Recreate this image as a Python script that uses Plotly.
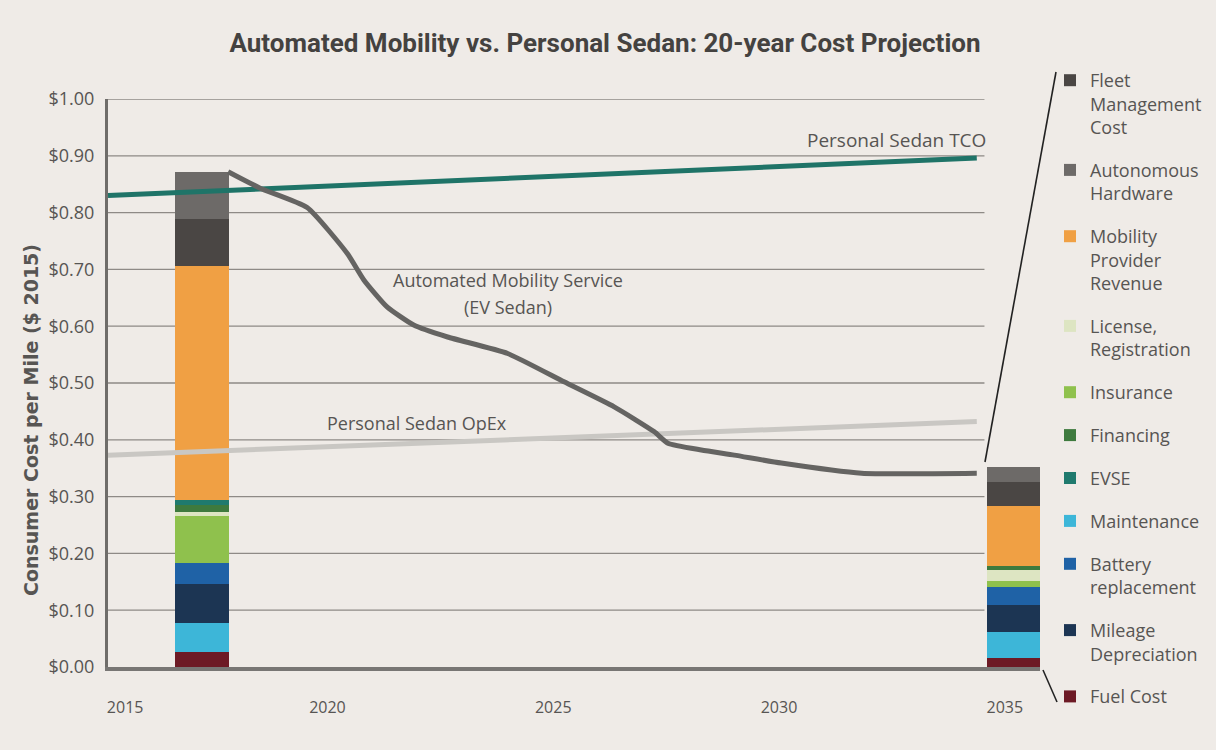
import plotly.graph_objects as go

# ---------------- data ----------------
bar_years = [2017.22, 2035.19]

fuel_cost = [0.027, 0.015]
maintenance = [0.050, 0.047]
mileage_depreciation = [0.070, 0.048]
battery_replacement = [0.036, 0.031]
insurance = [0.082, 0.011]
license_registration = [0.008, 0.018]
financing = [0.012, 0.007]
evse = [0.009, 0.0]
mobility_provider_revenue = [0.412, 0.107]
fleet_management_cost = [0.082, 0.041]
autonomous_hardware = [0.084, 0.027]

tco_years = [2015.14, 2034.38]
tco_values = [0.830, 0.896]

opex_years = [2015.14, 2034.38]
opex_values = [0.373, 0.432]

ev_years = [2017.80, 2018.51, 2019.55, 2020.44, 2020.81, 2021.32, 2021.91, 2022.66,
            2023.99, 2025.24, 2026.35, 2027.24, 2027.54, 2028.28, 2029.01, 2030.05,
            2031.83, 2034.38]
ev_values = [0.872, 0.843, 0.809, 0.728, 0.681, 0.634, 0.602, 0.581,
             0.552, 0.502, 0.458, 0.414, 0.394, 0.382, 0.373, 0.359,
             0.341, 0.341]

x_tick_vals = [2015.52, 2020, 2025, 2030, 2035]
x_tick_text = ["2015", "2020", "2025", "2030", "2035"]
y_tick_vals = [0.0, 0.1, 0.2, 0.3, 0.4, 0.5, 0.6, 0.7, 0.8, 0.9, 1.0]

X_MIN, X_MAX = 2015.14, 2035.78
GRID_END = 2034.55

# stack order bottom -> top: (name, values, colour, legend rank)
segments = [
    ("Fuel Cost", fuel_cost, "#6d1a25", 11),
    ("Maintenance", maintenance, "#3db6d8", 8),
    ("Mileage<br>Depreciation", mileage_depreciation, "#1c3553", 10),
    ("Battery<br>replacement", battery_replacement, "#1f62a6", 9),
    ("Insurance", insurance, "#8fc14d", 5),
    ("License,<br>Registration", license_registration, "#dde5c2", 4),
    ("Financing", financing, "#3e7a3e", 6),
    ("EVSE", evse, "#1f7a6e", 7),
    ("Mobility<br>Provider<br>Revenue", mobility_provider_revenue, "#f0a044", 3),
    ("Fleet<br>Management<br>Cost", fleet_management_cost, "#4a4644", 1),
    ("Autonomous<br>Hardware", autonomous_hardware, "#6d6a68", 2),
]

TEXT = "#575553"
FONT = "Open Sans, Noto Sans, sans-serif"
BG = "#efebe7"

fig = go.Figure()

for i, (name, vals, col, rank) in enumerate(segments):
    fig.add_trace(go.Bar(
        x=bar_years, y=vals, name=name, width=1.18,
        marker=dict(color=col, line=dict(width=0)),
        legendrank=rank, legendgroup=f"g{i}",
    ))

fig.add_trace(go.Scatter(x=tco_years, y=tco_values, mode="lines",
                         line=dict(color="#1f7468", width=5), showlegend=False))
fig.add_trace(go.Scatter(x=opex_years, y=opex_values, mode="lines",
                         line=dict(color="#c9c7c3", width=5), showlegend=False))
fig.add_trace(go.Scatter(x=ev_years, y=ev_values, mode="lines",
                         line=dict(color="#656462", width=5, shape="spline", smoothing=0.5),
                         showlegend=False))

# gridlines (stop short of the 2035 bar, as in the reference)
shapes = []
for v in y_tick_vals[1:]:
    shapes.append(dict(type="line", xref="x", yref="y", x0=X_MIN, x1=GRID_END, y0=v, y1=v,
                       line=dict(color="#8e8a86", width=1.3), layer="below"))

# bracket lines linking the 2035 bar to the legend (paper coords)
L, T, W, H = 108, 99, 932, 568
def px(xp):
    return (xp - L) / W
def py(yp):
    return (T + H - yp) / H
shapes.append(dict(type="line", xref="paper", yref="paper",
                   x0=px(985), y0=py(462), x1=px(1056), y1=py(72),
                   line=dict(color="#222222", width=1.6)))
shapes.append(dict(type="line", xref="paper", yref="paper",
                   x0=px(1043), y0=py(670), x1=px(1057), y1=py(702),
                   line=dict(color="#222222", width=1.6)))

def note(text, xp, yp, size=18, family=FONT, angle=0):
    return dict(text=text, x=px(xp), y=py(yp), xref="paper", yref="paper",
                xanchor="center", yanchor="middle", textangle=angle, showarrow=False,
                font=dict(family=family, size=size, color=TEXT))

annotations = [
    note("Personal Sedan TCO", 896, 140, size=19),
    note("Automated Mobility Service", 508, 280),
    note("(EV Sedan)", 508, 307),
    note("Personal Sedan OpEx", 417, 423),
    note("<b>Consumer Cost per Mile ($ 2015)</b>", 31, 420, size=19,
         family="DejaVu Sans, sans-serif", angle=-90),
]

fig.update_layout(
    width=1216, height=750,
    margin=dict(l=L, r=1216 - L - W, t=T, b=750 - T - H, autoexpand=False),
    paper_bgcolor=BG, plot_bgcolor=BG,
    barmode="stack", bargap=0,
    title=dict(text="<b>Automated Mobility vs. Personal Sedan: 20-year Cost Projection</b>",
               x=605 / 1216, y=1 - 43 / 750, xanchor="center", yanchor="middle",
               font=dict(family="Roboto, sans-serif", size=26, color="#444240")),
    xaxis=dict(range=[X_MIN, X_MAX], tickvals=x_tick_vals, ticktext=x_tick_text,
               showgrid=False, zeroline=False, showline=True, linecolor="#787674",
               linewidth=4, ticks="", ticklabelstandoff=23,
               tickfont=dict(family=FONT, size=16, color=TEXT)),
    yaxis=dict(range=[0, 1.0], tickvals=y_tick_vals, tickformat="$.2f",
               showgrid=False, zeroline=False, showline=True, linecolor="#6f6d6a",
               linewidth=3, ticks="", ticklabelstandoff=7,
               tickfont=dict(family=FONT, size=18, color=TEXT)),
    legend=dict(x=px(1050), y=py(62), xanchor="left", yanchor="top",
                bgcolor="rgba(0,0,0,0)", valign="top", tracegroupgap=16.5,
                itemwidth=30, maxheight=745,
                font=dict(family=FONT, size=18, color=TEXT)),
    shapes=shapes, annotations=annotations,
    showlegend=True,
)

fig.write_html("out.html", config={"displayModeBar": False},
               post_script="document.body.style.margin='0';document.body.style.overflow='hidden';")
